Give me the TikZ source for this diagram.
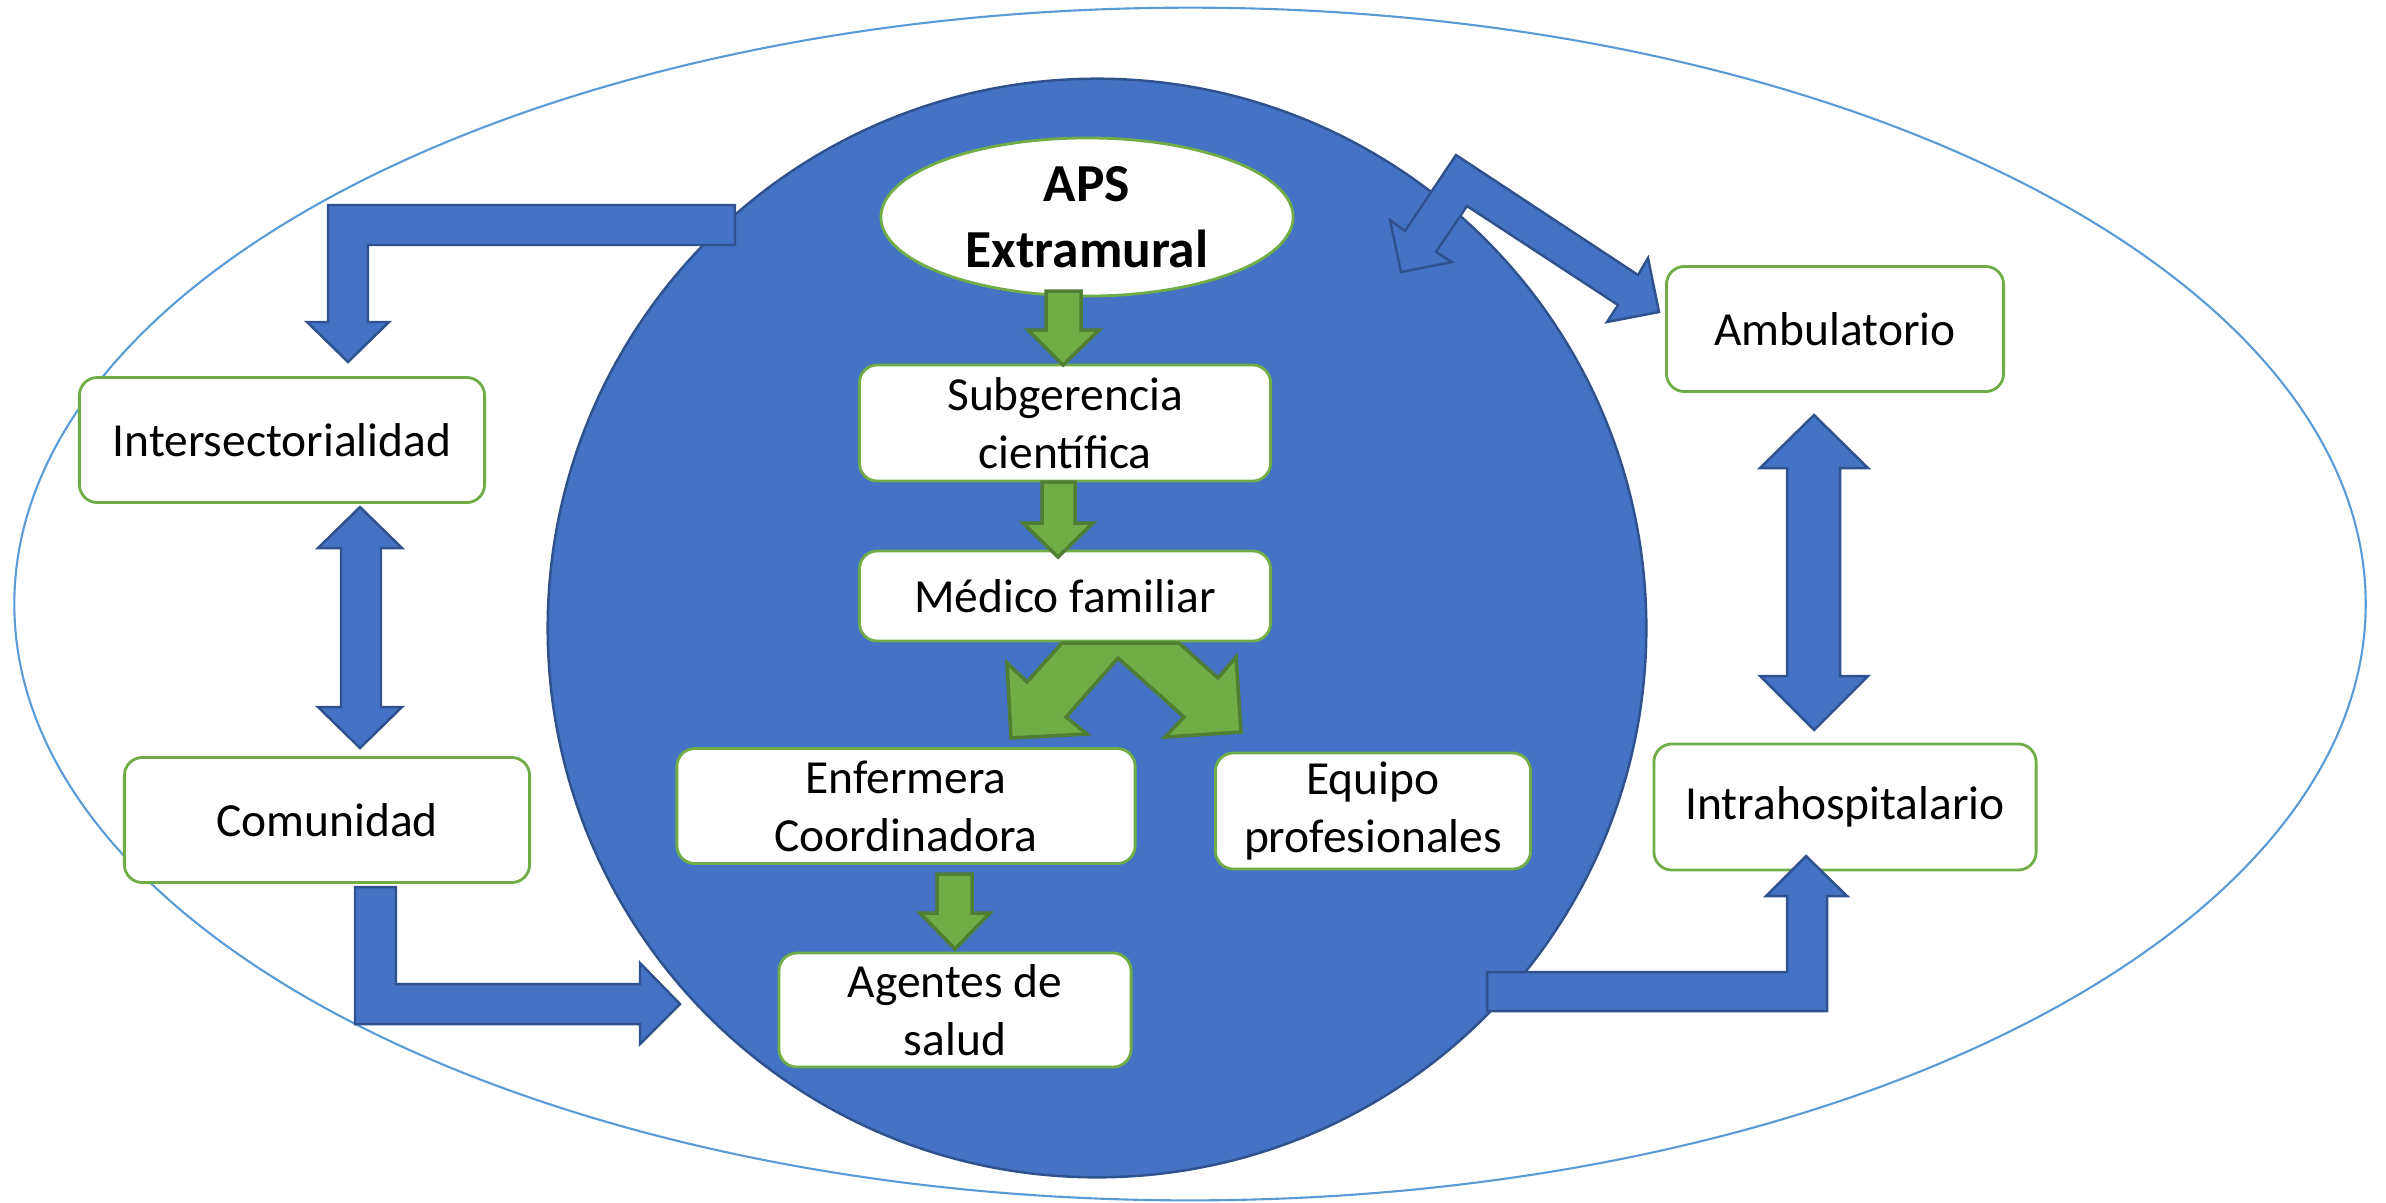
\documentclass[tikz,border=0pt]{standalone}
\usepackage{fontspec}
\setmainfont{Carlito}
\usepackage{tikz}
\usetikzlibrary{shapes.geometric,positioning,calc}

\definecolor{circblue}{HTML}{4472C4}
\definecolor{circedge}{HTML}{2F528F}
\definecolor{boxgreen}{HTML}{70AD47}
\definecolor{arrgreen}{HTML}{507E32}
\definecolor{ringblue}{HTML}{5B9BD5}

\tikzset{
  box/.style={draw=boxgreen, line width=0.8pt, fill=white, rounded corners=0.18cm,
    align=center, inner sep=0pt, font=\fontsize{13.5}{16.5}\selectfont},
  bluearrow/.style={fill=circblue, draw=circedge, line width=0.7pt},
  greenarrow/.style={fill=boxgreen, draw=arrgreen, line width=1pt},
}

\begin{document}
\begin{tikzpicture}[x=0.01cm, y=-0.01cm]
    \useasboundingbox (0,0) rectangle (2386,1202);

    % Outer ring and central circle
    \draw[ringblue, line width=0.6pt] (1190,604) ellipse [x radius=11.75cm, y radius=5.96cm];
    \draw[fill=circblue, draw=circedge, line width=0.7pt] (1097,628) circle [radius=5.49cm];

    % APS
    \node[ellipse, draw=boxgreen, line width=0.8pt, fill=white, align=center,
      minimum width=4.12cm, minimum height=1.58cm, inner sep=0pt,
      font=\fontsize{15.2}{18.6}\selectfont\bfseries] (aps) at (1087,217) {APS\\Extramural};

    % Inside the circle
    \node[box, minimum width=4.11cm, minimum height=1.16cm] (sub) at (1065,423) {Subgerencia\\científica};
    \node[box, minimum width=4.11cm, minimum height=0.90cm] (med) at (1065,596) {Médico familiar};
    \node[box, minimum width=4.58cm, minimum height=1.15cm] (enf) at (906,806) {Enfermera\\Coordinadora};
    \node[box, minimum width=3.15cm, minimum height=1.16cm] (equ) at (1373,811) {Equipo\\profesionales};
    \node[box, minimum width=3.52cm, minimum height=1.14cm] (age) at (955,1010) {Agentes de\\salud};

    % Left side
    \node[box, minimum width=4.05cm, minimum height=1.25cm] (int) at (282,440) {Intersectorialidad};
    \node[box, minimum width=4.05cm, minimum height=1.25cm] (com) at (327,820) {Comunidad};

    % Right side
    \node[box, minimum width=3.37cm, minimum height=1.25cm] (amb) at (1835,329) {Ambulatorio};
    \node[box, minimum width=3.82cm, minimum height=1.26cm] (hos) at (1845,807) {Intrahospitalario};

    % Green arrows
    \draw[greenarrow] (1046,291) -- (1081,291) -- (1081,330) -- (1099,330) -- (1063,365)
      -- (1028,330) -- (1046,330) -- cycle;
    \draw[greenarrow] (1042,482) -- (1075,482) -- (1075,523) -- (1093,523) -- (1058,557)
      -- (1023,523) -- (1042,523) -- cycle;
    \draw[greenarrow] (937,874) -- (972,874) -- (972,913) -- (990,913) -- (955,949)
      -- (920,913) -- (937,913) -- cycle;
    \draw[greenarrow] (1062,643) -- (1027,682) -- (1007,663) -- (1011,738) -- (1087,734)
      -- (1066,717) -- (1118,658) -- (1184,717) -- (1165,737) -- (1241,732)
      -- (1236,657) -- (1218,678) -- (1179,643) -- cycle;

    % Blue arrows
    \draw[bluearrow] (735,205) -- (328,205) -- (328,322) -- (307,322) -- (348,362)
      -- (389,322) -- (368,322) -- (368,245) -- (735,245) -- cycle;
    \draw[bluearrow] (360,507) -- (402,548) -- (381,548) -- (381,707) -- (402,707)
      -- (360,748) -- (318,707) -- (341,707) -- (341,548) -- (318,548) -- cycle;
    \draw[bluearrow] (355,887) -- (396,887) -- (396,984) -- (640,984) -- (640,963)
      -- (680,1004) -- (640,1044) -- (640,1024) -- (355,1024) -- cycle;
    \draw[bluearrow] (1456,155) -- (1638,275) -- (1648,258) -- (1659,312) -- (1607,322)
      -- (1618,305) -- (1467,206) -- (1436,252) -- (1452,262) -- (1401,272)
      -- (1390,220) -- (1405,231) -- cycle;
    \draw[bluearrow] (1814,415) -- (1868,468) -- (1840,468) -- (1840,676) -- (1868,676)
      -- (1814,730) -- (1760,676) -- (1787,676) -- (1787,468) -- (1760,468) -- cycle;
    \draw[bluearrow] (1487,972) -- (1787,972) -- (1787,896) -- (1766,896) -- (1806,856)
      -- (1847,896) -- (1827,896) -- (1827,1011) -- (1487,1011) -- cycle;
\end{tikzpicture}
\end{document}
